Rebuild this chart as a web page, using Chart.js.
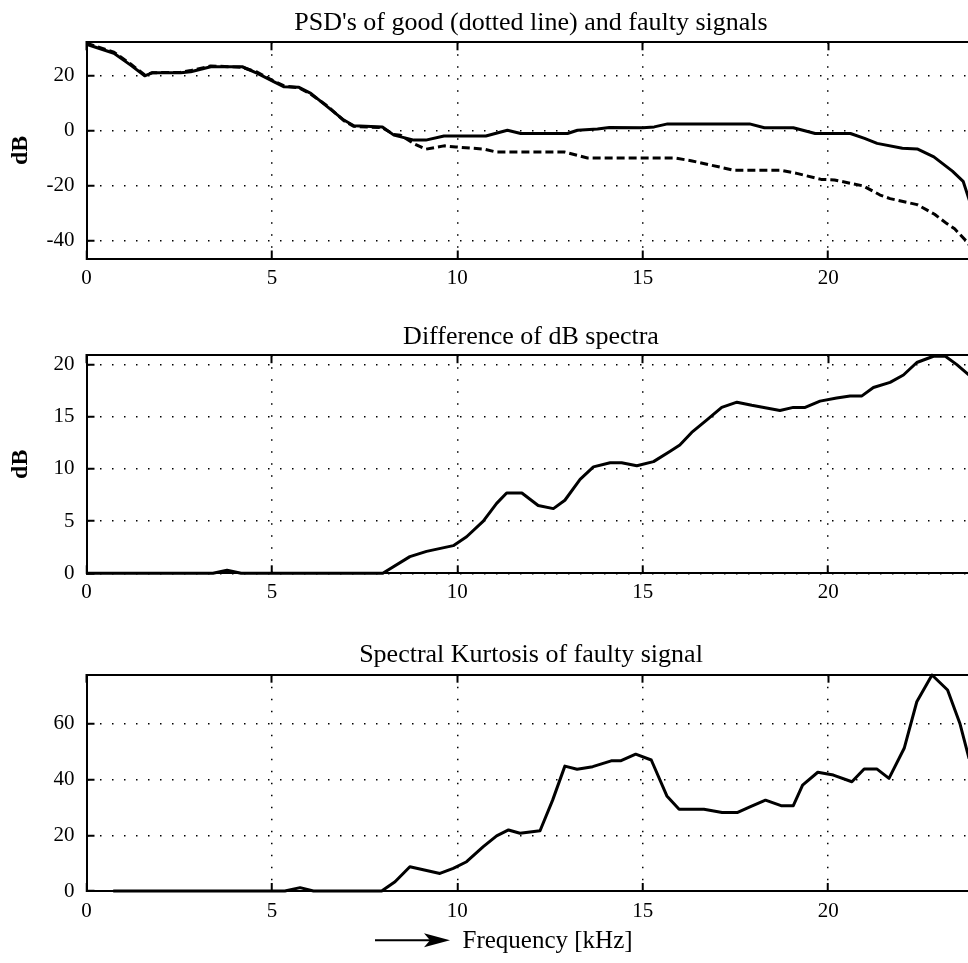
<!DOCTYPE html>
<html>
<head>
<meta charset="utf-8">
<script src="https://cdn.jsdelivr.net/npm/chart.js@4.4.1/dist/chart.umd.min.js"></script>
<style>
html,body{margin:0;padding:0;background:#fff;overflow:hidden;width:968px;height:963px;}
#wrap{position:relative;width:968px;height:963px;overflow:hidden;background:#fff;}
.c{position:absolute;left:0;}
</style>
</head>
<body>
<div id="wrap">
  <canvas id="c1" class="c" style="top:0px" width="1062" height="300"></canvas>
  <canvas id="c2" class="c" style="top:310px" width="1062" height="305"></canvas>
  <canvas id="c3" class="c" style="top:620px" width="1062" height="343"></canvas>
</div>
<script>
// ---------- data ----------
const xTicks = [0, 5, 10, 15, 20];
const psdTicks = [-40, -20, 0, 20];
const diffTicks = [0, 5, 10, 15, 20];
const skTicks = [0, 20, 40, 60];

const titles = ["PSD's of good (dotted line) and faulty signals", "Difference of dB spectra", "Spectral Kurtosis of faulty signal"];
const xLabel = "Frequency [kHz]";
const yLabel = "dB";

// faulty signal PSD (solid line)
const faultyFreq = [0, 0.74, 1.19, 1.57, 1.77, 2.54, 2.81, 3.35, 4.2, 4.61, 5.06, 5.33, 5.73, 6.05, 6.5, 6.94, 7.21, 7.98, 8.29, 8.83, 9.15, 9.64, 10.77, 11.35, 11.71, 12.97, 13.24, 13.78, 14.1, 15.0, 15.31, 15.67, 17.88, 18.28, 19.06, 19.65, 20.6, 20.98, 21.32, 22.0, 22.4, 22.85, 23.35, 23.64, 23.82];
const faultyDb   = [31.4, 28.1, 23.8, 19.9, 21.0, 21.0, 21.4, 23.2, 23.2, 20.8, 17.7, 15.9, 15.7, 13.5, 8.6, 3.8, 1.7, 1.3, -1.7, -3.5, -3.5, -2.0, -2.0, 0.1, -1.1, -1.1, 0.1, 0.5, 1.1, 1.0, 1.3, 2.4, 2.4, 1.0, 1.0, -1.1, -1.1, -2.9, -4.7, -6.5, -6.7, -9.6, -14.8, -18.5, -26.0];

// good signal PSD (dashed line)
const goodFreq = [0, 0.74, 1.19, 1.57, 1.77, 2.54, 2.81, 3.35, 4.2, 4.61, 5.06, 5.33, 5.73, 6.05, 6.5, 6.94, 7.21, 7.98, 8.29, 8.47, 8.83, 9.15, 9.64, 9.96, 10.72, 11.04, 12.88, 13.51, 15.85, 16.3, 16.8, 17.47, 18.73, 19.18, 19.81, 20.17, 20.95, 21.4, 21.67, 22.4, 22.87, 23.2, 23.41, 23.74, 23.85];
const goodDb   = [31.8, 28.5, 24.2, 20.2, 21.0, 21.2, 21.8, 23.5, 23.0, 21.2, 17.9, 16.2, 15.5, 13.2, 8.9, 3.6, 1.5, 1.0, -1.5, -1.7, -4.8, -6.8, -5.6, -6.0, -6.8, -7.8, -7.8, -10.0, -10.0, -11.0, -12.5, -14.5, -14.5, -15.7, -17.8, -18.0, -20.2, -23.5, -24.8, -27.0, -30.5, -33.9, -35.8, -40.5, -42.5];

// difference of dB spectra
const diffFreq = [0, 3.41, 3.79, 4.17, 7.99, 8.72, 9.17, 9.89, 10.25, 10.7, 11.06, 11.33, 11.74, 12.18, 12.59, 12.9, 13.31, 13.67, 14.12, 14.43, 14.84, 15.29, 15.74, 16.0, 16.32, 16.73, 17.13, 17.54, 17.94, 18.7, 19.06, 19.38, 19.78, 20.23, 20.59, 20.91, 21.22, 21.67, 22.03, 22.39, 22.84, 23.16, 23.47, 23.8];
const diffDb   = [0, 0, 0.3, 0, 0, 1.6, 2.1, 2.65, 3.5, 5.0, 6.7, 7.7, 7.7, 6.5, 6.2, 7.0, 9.0, 10.2, 10.6, 10.6, 10.3, 10.7, 11.7, 12.3, 13.5, 14.7, 15.9, 16.4, 16.1, 15.6, 15.9, 15.9, 16.5, 16.8, 17.0, 17.0, 17.8, 18.3, 19.0, 20.2, 20.8, 20.8, 20.0, 19.0];

// spectral kurtosis of faulty signal
const skFreq = [0.72, 5.35, 5.76, 6.12, 7.96, 8.32, 8.72, 9.53, 9.89, 10.25, 10.7, 11.06, 11.38, 11.69, 12.23, 12.57, 12.9, 13.23, 13.65, 14.15, 14.4, 14.81, 15.23, 15.65, 15.98, 16.65, 17.14, 17.56, 17.89, 18.31, 18.73, 19.06, 19.31, 19.72, 20.14, 20.64, 20.97, 21.31, 21.64, 22.05, 22.39, 22.8, 23.22, 23.55, 23.8];
const skVal  = [0, 0, 1.2, 0, 0, 3.3, 8.7, 6.3, 8.1, 10.5, 15.9, 19.8, 21.9, 20.7, 21.6, 32.6, 44.8, 43.7, 44.6, 46.7, 46.7, 49.1, 47.0, 34.1, 29.3, 29.3, 28.2, 28.2, 30.2, 32.6, 30.6, 30.6, 38.0, 42.6, 41.6, 39.2, 43.8, 43.8, 40.4, 51.2, 67.9, 77.5, 72.1, 60.2, 47.5];

// axis ranges
const xRange = [0, 24];
const psdRange = [-46.6, 32.1];
const diffRange = [0, 20.9];
const skRange = [0, 77.6];

// ---------- chart construction ----------
const FONT = '"Liberation Serif", "Times New Roman", Times, serif';
const pts = (xs, ys) => xs.map((x, i) => ({x: x, y: ys[i]}));
const setTicks = arr => (s => { s.ticks = arr.map(v => ({value: v})); });

function lineDs(label, xs, ys, dash) {
  return {
    label: label, data: pts(xs, ys), borderColor: '#000', backgroundColor: '#000',
    borderWidth: 3, borderDash: dash || [], pointRadius: 0, tension: 0, clip: 6,
    borderJoinStyle: 'round'
  };
}

function makeChart(id, datasets, yRange, yTicks, title, tPad, yTitle, xAxisH, tickPad, extraPlugins) {
  return new Chart(document.getElementById(id), {
    type: 'line',
    data: {datasets: datasets},
    options: {
      responsive: false, animation: false, events: [],
      layout: {padding: 0},
      plugins: {
        legend: {display: false}, tooltip: {enabled: false},
        title: {display: true, text: title, color: '#000',
          font: {family: FONT, size: 26, weight: 'normal', lineHeight: 1.2},
          padding: {top: tPad[0], bottom: tPad[1]}}
      },
      scales: {
        x: {
          type: 'linear', position: 'bottom', min: xRange[0], max: xRange[1],
          afterBuildTicks: setTicks(xTicks),
          afterFit: s => { s.height = xAxisH; },
          grid: {color: '#000', lineWidth: 1.5, drawTicks: true, tickLength: -8, tickColor: '#000', tickWidth: 2},
          border: {display: true, color: '#000', width: 2, dash: [1.5, 10.5]},
          ticks: {color: '#000', font: {family: FONT, size: 21}, padding: tickPad, maxRotation: 0, autoSkip: false,
                  callback: v => String(v)}
        },
        xTop: {
          type: 'linear', position: 'top', min: xRange[0], max: xRange[1],
          afterBuildTicks: setTicks(xTicks),
          afterFit: s => { s.height = 0; },
          grid: {drawOnChartArea: false, drawTicks: true, tickLength: -8, tickColor: '#000', tickWidth: 2},
          border: {display: true, color: '#000', width: 2},
          ticks: {display: false}
        },
        y: {
          type: 'linear', position: 'left', min: yRange[0], max: yRange[1],
          afterBuildTicks: setTicks(yTicks),
          afterFit: s => { s.width = 86.5; },
          grid: {color: '#000', lineWidth: 1.5, drawTicks: true, tickLength: -8, tickColor: '#000', tickWidth: 2},
          border: {display: true, color: '#000', width: 2, dash: [1.5, 10.5]},
          ticks: {color: '#000', font: {family: FONT, size: 21}, padding: 20, callback: v => String(v)},
          title: {display: !!yTitle, text: yTitle || '', color: '#000',
                  font: {family: FONT, size: 24, weight: 'bold', lineHeight: 1.2}, padding: {top: 6.6, bottom: 0}}
        },
        yRight: {
          type: 'linear', position: 'right', min: yRange[0], max: yRange[1],
          afterFit: s => { s.width = 85.5; },
          grid: {display: false}, border: {display: false}, ticks: {display: false}
        }
      }
    },
    plugins: extraPlugins || []
  });
}

// arrow + frequency label under the last panel
const freqLabelPlugin = {
  id: 'freqLabel',
  afterDraw(chart) {
    const ctx = chart.ctx;
    const xs = chart.scales.x;
    const y = xs.bottom - 22.7;
    ctx.save();
    ctx.strokeStyle = '#000'; ctx.fillStyle = '#000'; ctx.lineWidth = 2;
    ctx.beginPath(); ctx.moveTo(375, y); ctx.lineTo(430, y); ctx.stroke();
    ctx.beginPath(); ctx.moveTo(450, y); ctx.lineTo(424, y - 7); ctx.lineTo(430, y); ctx.lineTo(424, y + 7); ctx.closePath(); ctx.fill();
    ctx.font = '25px ' + FONT; ctx.textAlign = 'left'; ctx.textBaseline = 'middle';
    ctx.fillText(xLabel, 462.5, y + 1);
    ctx.restore();
  }
};

makeChart('c1', [
  lineDs('faulty', faultyFreq, faultyDb),
  lineDs('good', goodFreq, goodDb, [8, 4])
], psdRange, psdTicks, titles[0], [7.7, 3.4], yLabel, 41.5, 14.9);

makeChart('c2', [
  lineDs('difference', diffFreq, diffDb)
], diffRange, diffTicks, titles[1], [11.9, 2.1], yLabel, 41.7, 14.9);

makeChart('c3', [
  lineDs('kurtosis', skFreq, skVal)
], skRange, skTicks, titles[2], [19.9, 3.6], null, 72, 15.9, [freqLabelPlugin]);
</script>
</body>
</html>
